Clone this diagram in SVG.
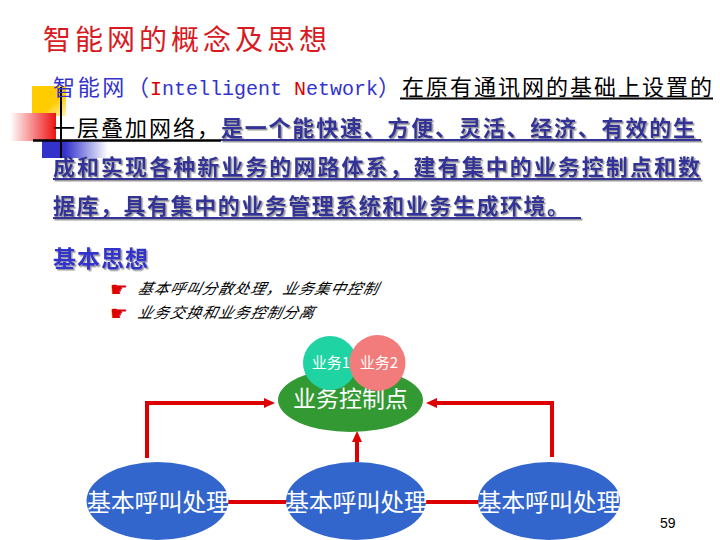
<svg xmlns="http://www.w3.org/2000/svg" width="720" height="540" viewBox="0 0 720 540">
<style>
.cjk{font-family:"Noto Sans CJK SC","Noto Sans",sans-serif}
.title{font-size:28px;fill:#d81a22}
.blue{fill:#3333cc}
.navy{fill:#333399;font-weight:bold}
.blk{fill:#000}
.b22{font-size:22px}
.it{font-size:15px;font-style:italic;fill:#000}
.hand{font-family:"DejaVu Sans",sans-serif;font-size:20px;fill:#dd0000}
.wt{fill:#ffffff;text-anchor:middle}
.conn{stroke:#dd0000;stroke-width:4;fill:none}
.ul{stroke-width:2}
</style>
<defs>
<filter id="sh" x="-5%" y="-20%" width="110%" height="160%">
<feDropShadow dx="1.5" dy="1.5" stdDeviation="0.4" flood-color="#9a9a9a" flood-opacity="1"/>
</filter>
<linearGradient id="gy" x1="0" y1="0" x2="1" y2="1">
<stop offset="0" stop-color="#ffcc00"/><stop offset="0.6" stop-color="#ffcc00"/><stop offset="1" stop-color="#fff3c0"/>
</linearGradient>
<linearGradient id="gr" x1="0" y1="0" x2="1" y2="0">
<stop offset="0" stop-color="#ffffff"/><stop offset="1" stop-color="#ee1111"/>
</linearGradient>
<linearGradient id="gb" x1="0" y1="0" x2="1" y2="0">
<stop offset="0" stop-color="#3333cc"/><stop offset="0.35" stop-color="#3333cc"/><stop offset="1" stop-color="#ffffff"/>
</linearGradient>
<marker id="ah" markerUnits="userSpaceOnUse" markerWidth="12" markerHeight="12" viewBox="0 0 12 12" refX="2" refY="6" orient="auto">
<path d="M0,1 L11,6 L0,11 Z" fill="#dd0000"/>
</marker>
</defs>
<rect width="720" height="540" fill="#ffffff"/>

<text class="cjk title" x="43" y="50" textLength="284" lengthAdjust="spacing">智能网的概念及思想</text>

<g id="decor">
<rect x="32" y="86" width="34" height="30" fill="url(#gy)"/>
<rect x="10" y="113" width="46" height="28" fill="url(#gr)"/>
<rect x="42" y="141" width="66" height="17" fill="url(#gb)"/>
<line x1="61" y1="87" x2="61" y2="158" stroke="#000" stroke-width="2"/>
<line x1="33" y1="140.5" x2="221" y2="140.5" stroke="#000" stroke-width="2.5"/>
</g>

<g id="para">
<text class="cjk blue b22" x="53" y="95" textLength="96" lengthAdjust="spacing">智能网（</text>
<text x="150" y="95" style="font-family:'Liberation Mono',monospace;font-size:20px" class="blue"><tspan fill="#dd0000">I</tspan>ntelligent <tspan fill="#dd0000">N</tspan>etwork</text>
<text class="cjk blue b22" x="378" y="95">）</text>
<text class="cjk blk b22" x="402" y="95" textLength="310" lengthAdjust="spacing">在原有通讯网的基础上设置的</text>
<line x1="400" y1="98.5" x2="713" y2="98.5" stroke="#000" class="ul"/>

<text class="cjk blk b22" x="53" y="136" textLength="166" lengthAdjust="spacing">一层叠加网络，</text>
<g filter="url(#sh)">
<text class="cjk navy b22" x="221" y="136" textLength="474" lengthAdjust="spacing">是一个能快速、方便、灵活、经济、有效的生</text>
<line x1="221" y1="140" x2="701" y2="140" stroke="#333399" class="ul"/>
<text class="cjk navy b22" x="53" y="175" textLength="647" lengthAdjust="spacing">成和实现各种新业务的网路体系，建有集中的业务控制点和数</text>
<line x1="53" y1="179" x2="701" y2="179" stroke="#333399" class="ul"/>
<text class="cjk navy b22" x="53" y="214" textLength="516" lengthAdjust="spacing">据库，具有集中的业务管理系统和业务生成环境。</text>
<line x1="53" y1="218" x2="581" y2="218" stroke="#333399" class="ul"/>
</g>
</g>

<g id="ideas">
<text class="cjk blue" x="53" y="267" style="font-size:23px;font-weight:bold" textLength="95" lengthAdjust="spacing" filter="url(#sh)">基本思想</text>
<text class="hand" x="110" y="296">☛</text>
<text class="cjk it" transform="translate(137,294) skewX(-14)" x="0" y="0" textLength="240" lengthAdjust="spacing">基本呼叫分散处理，业务集中控制</text>
<text class="hand" x="110" y="320">☛</text>
<text class="cjk it" transform="translate(137,318) skewX(-14)" x="0" y="0" textLength="176" lengthAdjust="spacing">业务交换和业务控制分离</text>
</g>

<g id="connectors">
<path class="conn" d="M147,458 V403 H266" marker-end="url(#ah)"/>
<path class="conn" d="M552,457 V403 H435" marker-end="url(#ah)"/>
<path class="conn" d="M357,462 V440" marker-end="url(#ah)"/>
<line class="conn" x1="226" y1="502" x2="289" y2="502"/>
<line class="conn" x1="423" y1="502" x2="480" y2="502"/>
</g>

<g id="control">
<ellipse cx="350.5" cy="400" rx="72.5" ry="32" fill="#339933"/>
<text class="cjk wt" x="350.5" y="407" style="font-size:23px" textLength="115" lengthAdjust="spacing">业务控制点</text>
</g>
<g id="svc1">
<circle cx="330" cy="363" r="27" fill="#1fd3a3"/>
<text class="cjk wt" x="331" y="368" style="font-size:15px">业务1</text>
</g>
<g id="svc2">
<circle cx="377.5" cy="363" r="28" fill="#f27b7b"/>
<text class="cjk wt" x="379" y="368" style="font-size:15px">业务2</text>
</g>

<g id="call1">
<ellipse cx="157.5" cy="501" rx="71" ry="39" fill="#3366cc"/>
<text class="cjk wt" x="158.5" y="511" style="font-size:24px" textLength="143" lengthAdjust="spacing">基本呼叫处理</text>
</g>
<g id="call2">
<ellipse cx="356" cy="501" rx="70" ry="39" fill="#3366cc"/>
<text class="cjk wt" x="356.5" y="511" style="font-size:24px" textLength="143" lengthAdjust="spacing">基本呼叫处理</text>
</g>
<g id="call3">
<ellipse cx="549" cy="501" rx="71" ry="39" fill="#3366cc"/>
<text class="cjk wt" x="549" y="511" style="font-size:24px" textLength="143" lengthAdjust="spacing">基本呼叫处理</text>
</g>

<text x="660" y="528" style="font-family:'Liberation Sans',Arial,sans-serif;font-size:14px" fill="#000">59</text>
</svg>
